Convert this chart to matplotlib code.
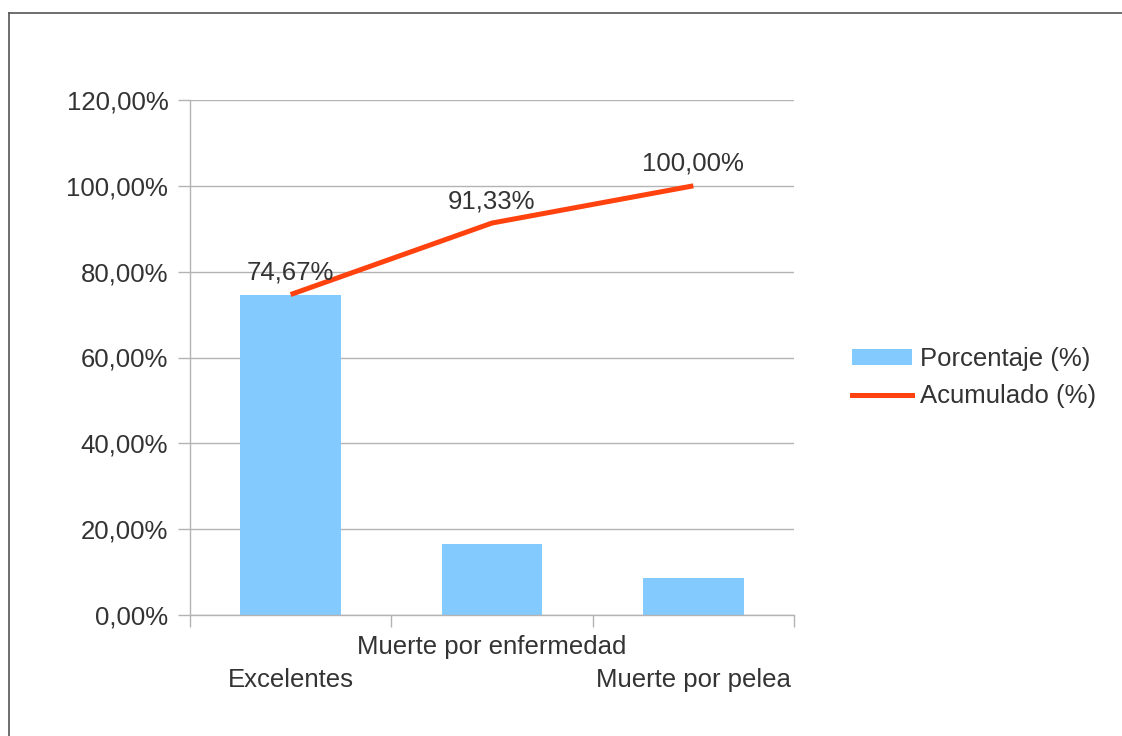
import numpy as np
import matplotlib.pyplot as plt
from matplotlib.lines import Line2D
from matplotlib.patches import Patch

# ------------------------------------------------------------
# Data
# ------------------------------------------------------------
categorias = ["Excelentes", "Muerte por enfermedad", "Muerte por pelea"]
porcentaje = [74.67, 16.66, 8.67]
acumulado = [74.67, 91.33, 100.00]
yticks = [0, 20, 40, 60, 80, 100, 120]

W, H = 1122, 736
plt.rcParams["font.family"] = ["Liberation Sans", "DejaVu Sans"]
fs = 18.5
txt = "#333333"
grid_c = "#b3b3b3"
bar_c = "#83caff"
line_c = "#ff420e"

fig = plt.figure(figsize=(W / 100, H / 100), dpi=100)

# frame lines (left and top of the chart area)
fig.add_artist(Line2D([9 / W, 9 / W], [0, 1 - 13 / H], transform=fig.transFigure,
                      color="#555555", lw=1.2))
fig.add_artist(Line2D([9 / W, 1], [1 - 13 / H, 1 - 13 / H], transform=fig.transFigure,
                      color="#555555", lw=1.2))

x0, x1, y0, y1 = 190, 794, 100, 615
ax = fig.add_axes([x0 / W, 1 - y1 / H, (x1 - x0) / W, (y1 - y0) / H])

x = np.arange(len(categorias))
ax.bar(x, porcentaje, width=0.5, color=bar_c, zorder=2)
ax.plot(x, acumulado, color=line_c, lw=3.6, solid_capstyle="butt", zorder=3)

for xi, v in zip(x, acumulado):
    ax.annotate(f"{v:.2f}%".replace(".", ","), (xi, v), xytext=(0, 22),
                textcoords="offset pixels", ha="center", va="center",
                fontsize=fs, color=txt, zorder=4)

ax.set_xlim(-0.5, len(categorias) - 0.5)
ax.set_ylim(0, 120)
ax.set_yticks(yticks)
ax.set_yticklabels([f"{v:.2f}%".replace(".", ",") for v in yticks],
                   fontsize=fs, color=txt)
ax.grid(axis="y", color=grid_c, lw=1, zorder=0)

# category ticks sit between the bars, labels are staggered
ax.set_xticks(np.arange(-0.5, len(categorias), 1.0))
ax.set_xticklabels([])
ax.tick_params(axis="x", length=8.6, color=grid_c, width=1)
ax.tick_params(axis="y", length=8.6, color=grid_c, width=1, pad=7)
for i, nombre in enumerate(categorias):
    off = 32 if i % 2 == 1 else 65
    ax.annotate(nombre, (i, 0), xycoords=("data", "axes fraction"),
                xytext=(0, -off), textcoords="offset pixels",
                ha="center", va="center", fontsize=fs, color=txt,
                annotation_clip=False)

for s in ["top", "right"]:
    ax.spines[s].set_visible(False)
for s in ["left", "bottom"]:
    ax.spines[s].set_color(grid_c)
    ax.spines[s].set_linewidth(1)

handles = [Patch(facecolor=bar_c, edgecolor="none"),
           Line2D([0], [0], color=line_c, lw=3.6)]
fig.legend(handles, ["Porcentaje (%)", "Acumulado (%)"],
           loc="center left", bbox_to_anchor=(852 / W, 1 - 377.5 / H),
           frameon=False, fontsize=fs, labelcolor=txt,
           borderpad=0, borderaxespad=0,
           handlelength=2.35, handleheight=0.55, handletextpad=0.3,
           labelspacing=0.5)

fig.savefig("out.png", dpi=100, facecolor="white")
